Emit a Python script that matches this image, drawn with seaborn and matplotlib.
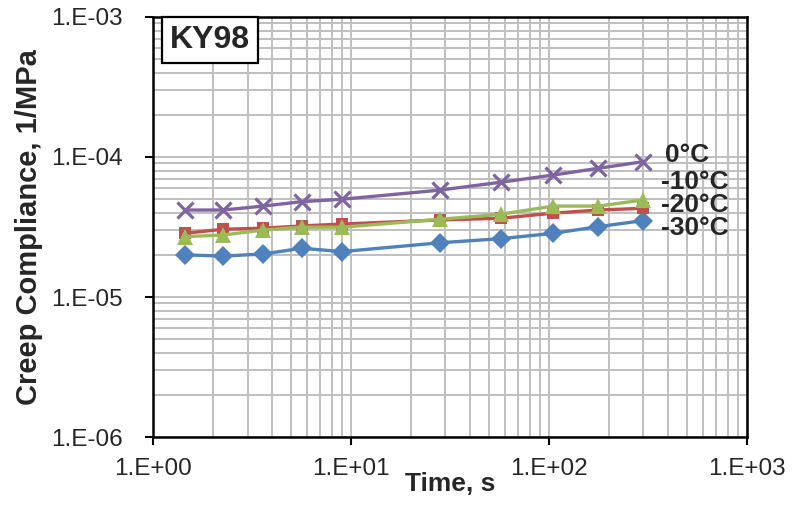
import pandas as pd
import matplotlib
matplotlib.use("Agg")
import matplotlib.pyplot as plt
import seaborn as sns

# Time (s) and creep compliance (1/MPa)
time_s = [1.45, 2.26, 3.6, 5.65, 9.0, 28.1, 57.0, 105.0, 177.0, 298.0]
d_m30 = [2.0e-5, 1.96e-5, 2.03e-5, 2.23e-5, 2.11e-5, 2.44e-5, 2.61e-5, 2.85e-5, 3.18e-5, 3.51e-5]
d_m20 = [2.85e-5, 3.05e-5, 3.1e-5, 3.22e-5, 3.32e-5, 3.55e-5, 3.65e-5, 3.97e-5, 4.18e-5, 4.3e-5]
d_m10 = [2.7e-5, 2.77e-5, 3.01e-5, 3.15e-5, 3.15e-5, 3.59e-5, 3.9e-5, 4.46e-5, 4.46e-5, 4.93e-5]
d_0 = [4.18e-5, 4.18e-5, 4.46e-5, 4.8e-5, 4.99e-5, 5.8e-5, 6.6e-5, 7.43e-5, 8.3e-5, 9.25e-5]

temps = ["-30°C", "-20°C", "-10°C", "0°C"]
colors = ["#4F81BD", "#C0504D", "#9BBB59", "#8064A2"]
markers = ["D", "s", "^", "x"]
msizes = [10.5, 9, 11, 12]

rows = []
for t, vals in zip(temps, [d_m30, d_m20, d_m10, d_0]):
    for x, y in zip(time_s, vals):
        rows.append({"Time": x, "D": y, "Temp": t})
df = pd.DataFrame(rows)

sns.set_style("white")
plt.rcParams['font.family'] = ['Liberation Sans', 'DejaVu Sans']

fig = plt.figure(figsize=(7.93, 5.13), dpi=100)
ax = fig.add_axes([0.193, 0.148, 0.749, 0.819])

for t, c, m, ms in zip(temps, colors, markers, msizes):
    sub = df[df["Temp"] == t]
    sns.lineplot(data=sub, x="Time", y="D", ax=ax, color=c, marker=m,
                 linewidth=2.4, markersize=ms,
                 markeredgewidth=0 if m != "x" else 2.3,
                 markeredgecolor=c, zorder=3, legend=False)

ax.set_xscale("log")
ax.set_yscale("log")
ax.set_xlim(1, 1000)
ax.set_ylim(1e-6, 1e-3)

ax.grid(True, which="both", color="#BFBFBF", linewidth=1.4)
ax.set_axisbelow(True)
for s in ax.spines.values():
    s.set_color("black")
    s.set_linewidth(1.8)

ax.set_xticks([1, 10, 100, 1000])
ax.set_xticklabels(["1.E+00", "1.E+01", "1.E+02", "1.E+03"])
ax.set_yticks([1e-6, 1e-5, 1e-4, 1e-3])
ax.set_yticklabels(["1.E-06", "1.E-05", "1.E-04", "1.E-03"])
ax.tick_params(axis="both", which="major", labelsize=17.5, length=6, width=1.5,
               direction="out", color="black", bottom=True, left=True)
ax.tick_params(axis="x", which="major", pad=9)
ax.tick_params(axis="y", which="major", pad=16)
ax.tick_params(axis="both", which="minor", length=0)

ax.set_xlabel("Time, s", fontsize=19, fontweight="bold", labelpad=-6)
ax.set_ylabel("Creep Compliance, 1/MPa", fontsize=21, fontweight="bold", labelpad=6)

# temperature labels on the right
lbl_pos = [(0.856, 0.498), (0.856, 0.552), (0.856, 0.607), (0.862, 0.672)]
for t, (px, py) in zip(temps, lbl_pos):
    ax.text(px, py, t, transform=ax.transAxes, fontsize=19, fontweight="bold",
            ha="left", va="center")

ax.text(0.028, 0.946, "KY98", transform=ax.transAxes, fontsize=23, fontweight="bold",
        ha="left", va="center",
        bbox=dict(boxstyle="square,pad=0.25", facecolor="white", edgecolor="black", linewidth=1.6))

fig.savefig("out.png", dpi=100)
